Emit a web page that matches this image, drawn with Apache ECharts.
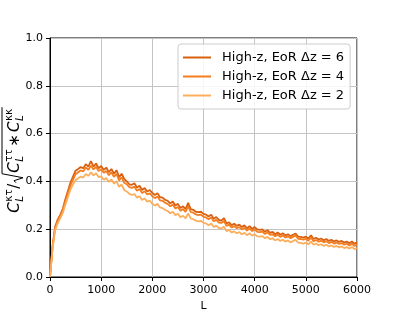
<!DOCTYPE html>
<html>
<head>
<meta charset="utf-8">
<script src="https://cdn.jsdelivr.net/npm/echarts@6/dist/echarts.min.js"></script>
<style>html,body{margin:0;padding:0;background:#fff}#c{width:397px;height:317px}</style>
</head>
<body>
<div id="c"></div>
<script>
// ---- data ----
const L = [0,50,100,150,200,250,300,350,400,450,500,550,600,650,700,750,800,850,900,950,
1000,1050,1100,1150,1200,1250,1300,1350,1400,1450,1500,1550,1600,1650,1700,1750,1800,1850,1900,1950,
2000,2050,2100,2150,2200,2250,2300,2350,2400,2450,2500,2550,2600,2650,2700,2750,2800,2850,2900,2950,
3000,3050,3100,3150,3200,3250,3300,3350,3400,3450,3500,3550,3600,3650,3700,3750,3800,3850,3900,3950,
4000,4050,4100,4150,4200,4250,4300,4350,4400,4450,4500,4550,4600,4650,4700,4750,4800,4850,4900,4950,
5000,5050,5100,5150,5200,5250,5300,5350,5400,5450,5500,5550,5600,5650,5700,5750,5800,5850,5900,5950,6000];

const dz6 = [0.0,0.13,0.21,0.24,0.26,0.285,0.325,0.36,0.395,0.42,0.445,0.452,0.46,0.455,0.472,0.462,0.485,0.462,0.475,0.455,
0.465,0.448,0.458,0.438,0.452,0.432,0.447,0.418,0.432,0.41,0.40,0.388,0.386,0.392,0.374,0.382,0.364,0.372,0.358,0.364,
0.352,0.343,0.351,0.334,0.332,0.323,0.319,0.308,0.316,0.299,0.306,0.289,0.296,0.284,0.31,0.284,0.281,0.273,0.271,0.273,
0.264,0.261,0.253,0.261,0.244,0.251,0.239,0.236,0.246,0.224,0.229,0.217,0.223,0.214,0.219,0.209,0.216,0.204,0.213,0.201,
0.209,0.199,0.197,0.199,0.189,0.196,0.185,0.189,0.179,0.186,0.177,0.183,0.174,0.179,0.171,0.177,0.182,0.169,0.168,0.165,
0.169,0.161,0.175,0.159,0.164,0.157,0.161,0.154,0.159,0.151,0.156,0.149,0.153,0.147,0.151,0.144,0.148,0.141,0.149,0.139,0.145];

const dz4 = [0.0,0.125,0.205,0.233,0.255,0.278,0.315,0.35,0.383,0.408,0.43,0.438,0.446,0.442,0.458,0.449,0.466,0.45,0.461,0.443,
0.451,0.436,0.443,0.426,0.438,0.419,0.432,0.404,0.417,0.394,0.388,0.376,0.373,0.378,0.361,0.368,0.351,0.359,0.345,0.35,
0.338,0.33,0.337,0.321,0.319,0.31,0.306,0.296,0.303,0.287,0.293,0.277,0.284,0.272,0.296,0.272,0.269,0.262,0.259,0.261,
0.252,0.249,0.242,0.249,0.233,0.239,0.228,0.226,0.234,0.214,0.219,0.207,0.213,0.204,0.209,0.199,0.206,0.194,0.203,0.192,
0.199,0.189,0.188,0.19,0.18,0.187,0.176,0.18,0.17,0.177,0.168,0.174,0.165,0.17,0.162,0.168,0.173,0.16,0.159,0.156,
0.16,0.152,0.165,0.15,0.155,0.148,0.152,0.145,0.15,0.142,0.147,0.14,0.144,0.138,0.142,0.135,0.139,0.132,0.14,0.13,0.135];

const dz2 = [0.0,0.12,0.195,0.225,0.245,0.268,0.302,0.335,0.366,0.388,0.405,0.413,0.42,0.416,0.431,0.423,0.438,0.425,0.434,0.418,
0.421,0.407,0.414,0.398,0.408,0.391,0.401,0.377,0.387,0.364,0.358,0.348,0.343,0.347,0.332,0.338,0.322,0.329,0.315,0.32,
0.306,0.299,0.306,0.291,0.288,0.281,0.276,0.267,0.273,0.259,0.265,0.25,0.256,0.245,0.266,0.245,0.242,0.236,0.233,0.235,
0.227,0.224,0.217,0.224,0.209,0.215,0.205,0.203,0.211,0.192,0.197,0.186,0.191,0.183,0.188,0.179,0.185,0.175,0.183,0.173,
0.179,0.17,0.169,0.171,0.162,0.168,0.158,0.162,0.153,0.159,0.151,0.156,0.148,0.153,0.145,0.151,0.155,0.144,0.143,0.14,
0.144,0.137,0.148,0.135,0.14,0.133,0.137,0.13,0.135,0.128,0.132,0.126,0.13,0.124,0.128,0.121,0.125,0.119,0.126,0.117,0.121];

const seriesNames = ['High-z, EoR \u0394z = 6', 'High-z, EoR \u0394z = 4', 'High-z, EoR \u0394z = 2'];
const seriesColors = ['#d9600f', '#f47d1e', '#fdae5c'];
const xTicks = [0, 1000, 2000, 3000, 4000, 5000, 6000];
const yTicks = [0.0, 0.2, 0.4, 0.6, 0.8, 1.0];

// ---- y-axis label built from text pieces ----
const FONT = 'DejaVu Sans';
const mctx = document.createElement('canvas').getContext('2d');
function tw(s, size, italic) {
  mctx.font = (italic ? 'italic ' : '') + size + 'px "' + FONT + '"';
  return mctx.measureText(s).width;
}
function buildYLabel() {
  const big = 15, sm = 10.5;
  const items = [];
  let x = 0;
  function txt(s, size, italic, dx, dy) {
    items.push({type: 'text', x: dx, y: dy, style: {text: s, font: (italic ? 'italic ' : '') + size + 'px "' + FONT + '"', fill: '#000', verticalAlign: 'middle', align: 'left'}});
  }
  function cgroup(sup) {
    txt('C', big, true, x, 0);
    x += tw('C', big, true) + 0.5;
    txt(sup, sm, false, x, -6);
    txt('L', sm, true, x, 5);
    x += Math.max(tw(sup, sm, false), tw('L', sm, true)) + 0.5;
  }
  cgroup('\u03ba\u03c4');
  txt('/', big, false, x, 0); x += tw('/', big, false);
  const r0 = x;
  x += 11;
  cgroup('\u03c4\u03c4');
  x += 2;
  txt('\u2217', big, false, x, 0); x += tw('\u2217', big, false) + 2;
  cgroup('\u03ba\u03ba');
  const end = x + 1;
  items.push({type: 'polyline', shape: {points: [[r0 + 1, 1], [r0 + 3, -1], [r0 + 6, 8], [r0 + 10, -13], [end, -13]]}, style: {stroke: '#000', lineWidth: 1, fill: null}});
  const W = end;
  items.forEach(it => { if (it.type === 'text') it.x -= W / 2; else it.shape.points = it.shape.points.map(p => [p[0] - W / 2, p[1]]); });
  return {type: 'group', x: 15, y: 160, rotation: Math.PI / 2, children: items};
}

const chart = echarts.init(document.getElementById('c'), null, {renderer: 'canvas'});
const series = [dz6, dz4, dz2].map((arr, i) => ({
  name: seriesNames[i],
  type: 'line',
  data: arr.map((v, k) => [L[k], v]),
  showSymbol: false,
  symbol: 'none',
  lineStyle: {color: seriesColors[i], width: 1.8},
  itemStyle: {color: seriesColors[i]},
  z: 3 + i,
  animation: false
}));

chart.setOption({
  animation: false,
  backgroundColor: '#fff',
  textStyle: {fontFamily: FONT},
  grid: {left: 50, right: 40, top: 38, bottom: 34, show: true, borderColor: '#000', borderWidth: 1, backgroundColor: 'transparent'},
  xAxis: {
    type: 'value', min: xTicks[0], max: xTicks[xTicks.length - 1], interval: 1000,
    name: 'L', nameLocation: 'middle', nameGap: 24,
    nameTextStyle: {color: '#000', fontSize: 11, fontFamily: FONT},
    axisLine: {show: true, lineStyle: {color: '#000', width: 1}},
    axisTick: {show: true, length: 4, lineStyle: {color: '#000'}},
    axisLabel: {color: '#000', fontSize: 11, fontFamily: FONT, margin: 8, formatter: v => String(v)},
    splitLine: {show: true, lineStyle: {color: '#c4c4c4', width: 1}}
  },
  yAxis: {
    type: 'value', min: yTicks[0], max: yTicks[yTicks.length - 1], interval: 0.2,
    axisLine: {show: true, lineStyle: {color: '#000', width: 1}},
    axisTick: {show: true, length: 4, lineStyle: {color: '#000'}},
    axisLabel: {color: '#000', fontSize: 11, fontFamily: FONT, margin: 7, formatter: v => v.toFixed(1)},
    splitLine: {show: true, lineStyle: {color: '#c4c4c4', width: 1}}
  },
  legend: {
    orient: 'vertical', left: 178, top: 44,
    data: seriesNames,
    icon: 'rect', itemWidth: 28, itemHeight: 2, itemGap: 6,
    padding: [7, 6, 7, 5],
    backgroundColor: 'rgba(255,255,255,0.85)', borderColor: '#cccccc', borderWidth: 1, borderRadius: 3,
    textStyle: {color: '#000', fontSize: 13, fontFamily: FONT, padding: [0, 0, 0, 6]}
  },
  graphic: [buildYLabel()],
  series: series
});
</script>
</body>
</html>
